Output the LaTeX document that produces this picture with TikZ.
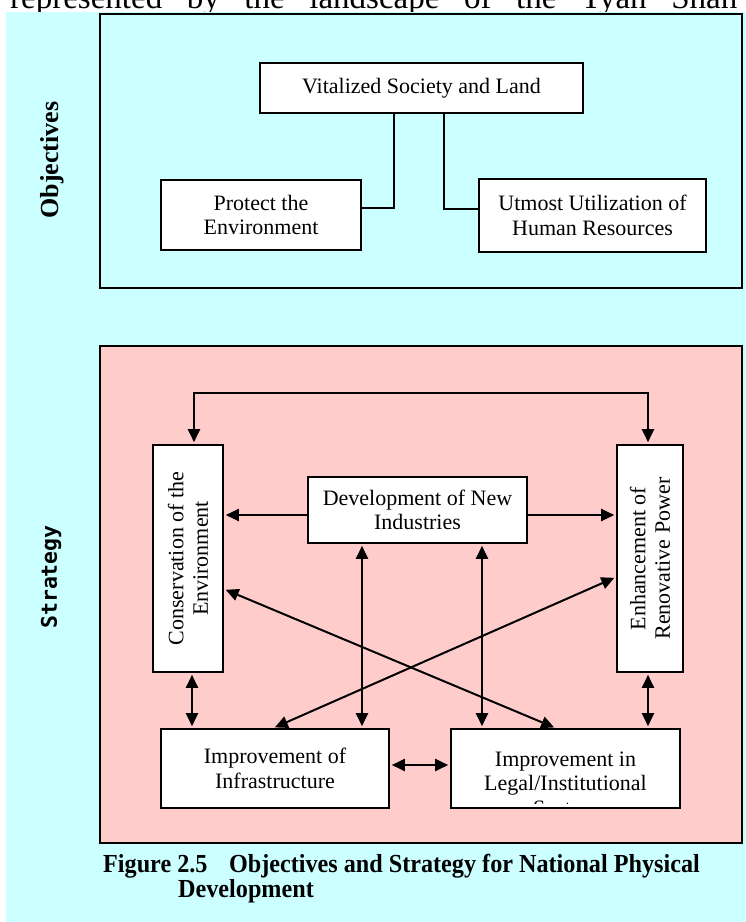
\documentclass[tikz,border=0pt]{standalone}
\usepackage{fontspec}
\setmainfont{Liberation Serif}
\newfontfamily\stratfont{DejaVu Sans Mono}
\usetikzlibrary{arrows.meta}
\definecolor{objbg}{RGB}{204,255,255}
\definecolor{strbg}{RGB}{255,204,204}
\newcommand{\narrow}[1]{\scalebox{0.93}[1]{#1}}
\tikzset{
  frame/.style={draw=black, line width=2.6pt},
  box/.style={draw=black, fill=white, line width=1.6pt, rectangle, inner sep=0pt,
    align=center, font=\fontsize{22}{24.5}\selectfont},
  boxtext/.style={align=center, inner sep=0pt, font=\fontsize{22}{24.5}\selectfont},
  conn/.style={line width=1.8pt},
  tip/.tip={Triangle[length=13pt,width=12pt]},
  arr/.style={-tip, line width=2pt, shorten >=2pt},
  dbl/.style={tip-tip, line width=2pt, shorten >=2pt, shorten <=2pt},
  capfont/.style={anchor=base west, inner sep=0pt, font=\fontsize{26}{26}\selectfont\bfseries},
}
\begin{document}
\begin{tikzpicture}[x=1pt,y=-1pt]
\useasboundingbox (0,0) rectangle (746,922);
\clip (0,0) rectangle (746,922);

% last line of the running text above the figure
\node[anchor=base west, inner sep=0pt, font=\fontsize{33}{33}\selectfont] (pagetext) at (10,8)
  {\makebox[727pt][s]{represented by the landscape of the Tyan Shan}};

% figure background
\fill[objbg] (6,12) rectangle (746,922);

% section frames
\draw[frame] (100,14) rectangle (742,288);
\draw[frame, fill=strbg] (100,346) rectangle (742,843);

% section labels
\node[rotate=90, font=\fontsize{26}{26}\selectfont\bfseries] (objlab) at (52,160) {Objectives};
\node[rotate=90, font=\stratfont\bfseries\fontsize{21.5}{21.5}\selectfont] (strlab) at (51,577) {Strategy};

% ---------- objectives ----------
\node[box, minimum width=323pt, minimum height=50pt] (vit) at (421.5,88) {Vitalized Society and Land};
\node[box, minimum width=200pt, minimum height=70pt] (prot) at (261,215) {Protect the\\Environment};
\node[box, minimum width=227pt, minimum height=73pt] (utm) at (592.5,215.5) {Utmost Utilization of\\Human Resources};

\coordinate (jl) at (394,208);
\coordinate (jr) at (444,209);
\draw[conn] (jl |- vit.south) -- (jl) -- (jl -| prot.east);
\draw[conn] (jr |- vit.south) -- (jr) -- (jr -| utm.west);

% ---------- strategy ----------
\node[box, minimum width=70pt, minimum height=227pt] (cons) at (188,558.5) {};
\node[boxtext, rotate=90] (consT) at (cons.center) {Conservation of the\\Environment};
\node[box, minimum width=66pt, minimum height=227pt] (enh) at (650,558.5) {};
\node[boxtext, rotate=90] (enhT) at (enh.center) {Enhancement of\\Renovative Power};
\node[box, minimum width=219pt, minimum height=66pt] (dev) at (417.5,510) {Development of New\\Industries};
\node[box, minimum width=228pt, minimum height=79pt] (inf) at (275,768.5) {Improvement of\\Infrastructure};
\node[box, minimum width=229pt, minimum height=79pt] (leg) at (565.5,768.5) {};
\begin{scope}
  % the third line runs out of the box and only its top shows
  \clip ([yshift=5pt]leg.south west) rectangle ([yshift=-1pt]leg.north east);
  \node[boxtext] (legT) at (565.5,786) {Improvement in\\Legal/Institutional\\System};
\end{scope}

% loop over the top
\coordinate (lpL) at (194,393);
\coordinate (lpR) at (648,393);
\draw[dbl] (lpL |- cons.north) -- (lpL) -- (lpR) -- (lpR |- enh.north);

% from the new industries to both sides
\coordinate (yh) at (0,515);
\draw[arr] (dev.west |- yh) -- (cons.east |- yh);
\draw[arr] (dev.east |- yh) -- (enh.west |- yh);

% vertical links
\coordinate (vA) at (362,0);
\coordinate (vB) at (482,0);
\coordinate (vC) at (192,0);
\coordinate (vD) at (648,0);
\draw[dbl] (vA |- dev.south) -- (vA |- inf.north);
\draw[dbl] (vB |- dev.south) -- (vB |- leg.north);
\draw[dbl] (vC |- cons.south) -- (vC |- inf.north);
\draw[dbl] (vD |- enh.south) -- (vD |- leg.north);

% bottom link
\coordinate (yi) at (0,765);
\draw[dbl] (inf.east |- yi) -- (leg.west |- yi);

% crossing diagonals
\coordinate (dA) at (0,589);
\coordinate (dB) at (556,0);
\coordinate (dC) at (0,577);
\coordinate (dD) at (273,0);
\draw[dbl] (cons.east |- dA) -- (dB |- leg.north);
\draw[dbl] (enh.west |- dC) -- (dD |- inf.north);

% caption, set in a narrowed bold face
\node[capfont] (capnum) at (103,872) {\narrow{Figure 2.5}};
\node[capfont, anchor=base east] (captitle) at (700,872) {\narrow{Objectives and Strategy for National Physical}};
\node[capfont] (capcont) at (178,897) {\narrow{Development}};
\end{tikzpicture}
\end{document}
